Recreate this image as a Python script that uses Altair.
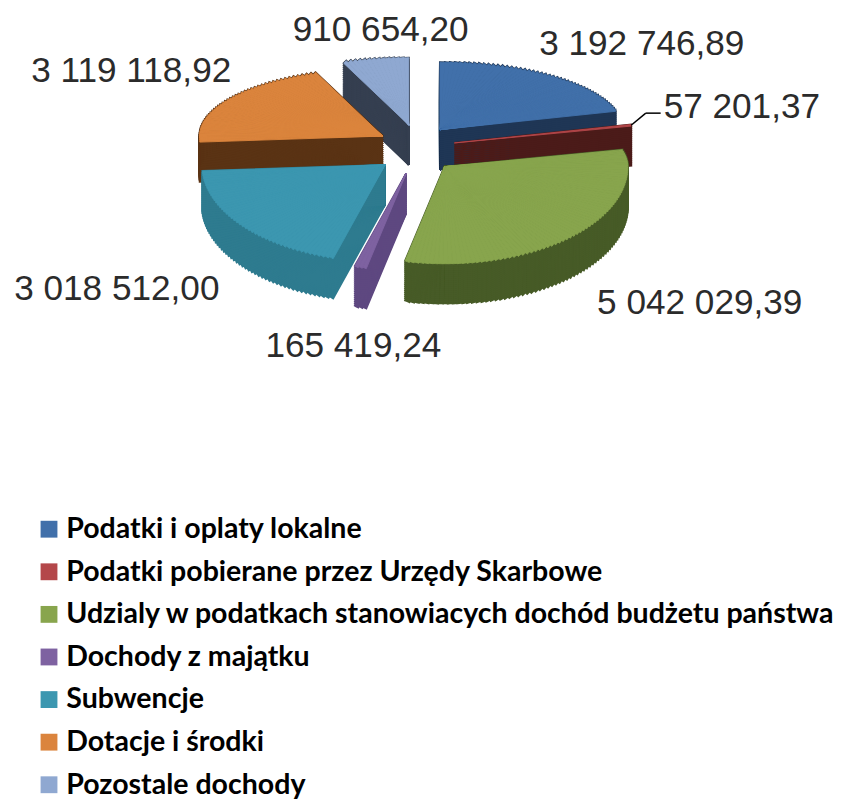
import altair as alt
import numpy as np
import pandas as pd

# ---------------- data ----------------
categories = [
    "Podatki i oplaty lokalne",
    "Podatki pobierane przez Urzędy Skarbowe",
    "Udzialy w podatkach stanowiacych dochód budżetu państwa",
    "Dochody z majątku",
    "Subwencje",
    "Dotacje i środki",
    "Pozostale dochody",
]
values = [3192746.89, 57201.37, 5042029.39, 165419.24, 3018512.00, 3119118.92, 910654.20]

# ---------------- styles ----------------
top_colors = ["#4170AA", "#B4474A", "#88A54D", "#7E62A1", "#3C97B0", "#DB843D", "#8FA8D1"]
side_colors = ["#1F3655", "#4B1B19", "#475B27", "#5E4880", "#2E7B8F", "#5A3314", "#353F50"]
LABEL_FONT = "Liberation Sans, Arial, sans-serif"
LEGEND_FONT = "Lato, Liberation Sans, sans-serif"

# geometry parameters (pixels, chart coords)
OX, OY = 412, 139          # centre of the (tilted) pie top face
A, BT, BB = 185, 68, 98     # horizontal semi-axis, back / front vertical semi-axes
DEPTH = 40                  # thickness of the pie
EX, EY = 40, 25             # explode distance
LA, LK = 254, 60            # label ring, horizontal
LBT0, LBT1, LBB0, LBB1 = 122, 55, 195, 40  # label ring, vertical
SUB = 240                   # sub-wedges per full turn

total = float(sum(values))
starts = np.concatenate([[0.0], np.cumsum(values)[:-1]])

rows = []
for i, (c, v, s0) in enumerate(zip(categories, values, starts)):
    K = max(1, int(round(v / total * SUB)))
    mid = 2 * np.pi * (s0 + v / 2) / total
    for k in range(K):
        rows.append(dict(cat=c, value=v, start=s0, total=total, k=k, K=K, front=-np.cos(mid)))
pie = pd.DataFrame(rows)

steps = pd.DataFrame({"s": np.arange(DEPTH, -1, -2)})
side = pie.sort_values("front", kind="stable").merge(steps, how="cross")
pie["s"] = 0

lab = pd.DataFrame({
    "cat": categories,
    "value": values,
    "start": starts,
    "total": total,
    "text": [f"{v:,.2f}".replace(",", " ").replace(".", ",") for v in values],
})


def bexpr(t):
    return f"(cos({t})>=0?{BT}:{BB})"


geom_calc = dict(
    t1="2*PI*(datum.start + datum.value*datum.k/datum.K)/datum.total",
    t2="2*PI*(datum.start + datum.value*(datum.k+1)/datum.K)/datum.total",
    m="2*PI*(datum.start + datum.value/2)/datum.total",
)
geom_calc2 = dict(
    tm="(datum.t1+datum.t2)/2",
    q1=f"atan2({A}*sin(datum.t1), {bexpr('datum.t1')}*cos(datum.t1))",
    q2=f"atan2({A}*sin(datum.t2), {bexpr('datum.t2')}*cos(datum.t2))",
    cx=f"{OX} + {EX}*sin(datum.m)",
    cy=f"{OY} - {EY}*cos(datum.m) + datum.s",
)
geom_calc3 = dict(
    p1="datum.q1 < 0 ? datum.q1 + 2*PI : datum.q1",
    p2="datum.q2 < 0 ? datum.q2 + 2*PI : datum.q2",
    r=f"sqrt(pow({A}*sin(datum.tm),2) + pow({bexpr('datum.tm')}*cos(datum.tm),2))",
)


def arc_layer(df, colors, legend, sw):
    sc = alt.Scale(domain=categories, range=colors)
    return (
        alt.Chart(df)
        .transform_calculate(**geom_calc)
        .transform_calculate(**geom_calc2)
        .transform_calculate(**geom_calc3)
        .mark_arc(strokeWidth=sw)
        .encode(
            x=alt.X("cx:Q", scale=None),
            y=alt.Y("cy:Q", scale=None),
            theta=alt.Theta("p1:Q", scale=None, stack=None),
            theta2=alt.Theta2("p2:Q"),
            radius=alt.Radius("r:Q", scale=None),
            color=alt.Color("cat:N", scale=sc, legend=legend),
            stroke=alt.Stroke("cat:N", scale=sc, legend=None),
        )
    )


legend = alt.Legend(
    title=None,
    orient="none",
    legendX=27,
    legendY=508,
    symbolType="square",
    symbolSize=289,
    symbolStrokeWidth=0,
    labelFont=LEGEND_FONT,
    labelFontSize=28.8,
    labelFontWeight="bold",
    labelColor="#000000",
    labelLimit=1000,
    labelOffset=3,
    rowPadding=13,
    padding=0,
)

sides = arc_layer(side, side_colors, None, 2)
tops = arc_layer(pie, top_colors, legend, 0.9)

lab_base = (
    alt.Chart(lab)
    .transform_calculate(m="2*PI*(datum.start + datum.value/2)/datum.total")
    .transform_calculate(
        sm="sin(datum.m)",
        cm="cos(datum.m)",
        small="datum.value/datum.total < 0.005",
    )
    .transform_calculate(
        lx=f"{OX} + datum.sm*({LA} - {LK}*max(datum.cm,0)) + (datum.small ? 20 : 0)",
        ly=(
            f"{OY} - (datum.cm>=0 ? ({LBT0} + {LBT1}*(1-datum.cm))"
            f" : ({LBB0} + {LBB1}*abs(datum.sm)))*datum.cm"
        ),
        side="datum.sm > 0.3 ? 'left' : (datum.sm < -0.3 ? 'right' : 'center')",
        rx=f"{OX} + {EX}*sin(datum.m) + {A}*sin(datum.m)",
        ry=f"{OY} - {EY}*cos(datum.m) - {BT}*cos(datum.m)",
    )
)

text_layers = []
for al in ["left", "right", "center"]:
    text_layers.append(
        lab_base.transform_filter(f"datum.side == '{al}'")
        .mark_text(align=al, baseline="middle", font=LABEL_FONT, fontSize=35.5, color="#2b2b2b")
        .encode(x=alt.X("lx:Q", scale=None), y=alt.Y("ly:Q", scale=None), text="text:N")
    )

lead_base = lab_base.transform_filter("datum.small").transform_calculate(
    ex="datum.lx - 18", ex2="datum.lx - 3", ey="datum.ly + 6"
)
lead1 = lead_base.mark_rule(color="#000000", strokeWidth=1.5).encode(
    x=alt.X("rx:Q", scale=None), y=alt.Y("ry:Q", scale=None),
    x2=alt.X2("ex:Q"), y2=alt.Y2("ey:Q"),
)
lead2 = lead_base.mark_rule(color="#000000", strokeWidth=1.5).encode(
    x=alt.X("ex:Q", scale=None), y=alt.Y("ey:Q", scale=None),
    x2=alt.X2("ex2:Q"), y2=alt.Y2("ey:Q"),
)

chart = (
    alt.layer(sides, tops, lead1, lead2, *text_layers)
    .resolve_scale(color="independent", stroke="independent")
    .properties(width=842, height=793, autosize=alt.AutoSizeParams(type="none"), padding=0)
    .configure_view(stroke=None)
)

chart.save("out.html", embed_options={"renderer": "svg", "actions": False})
